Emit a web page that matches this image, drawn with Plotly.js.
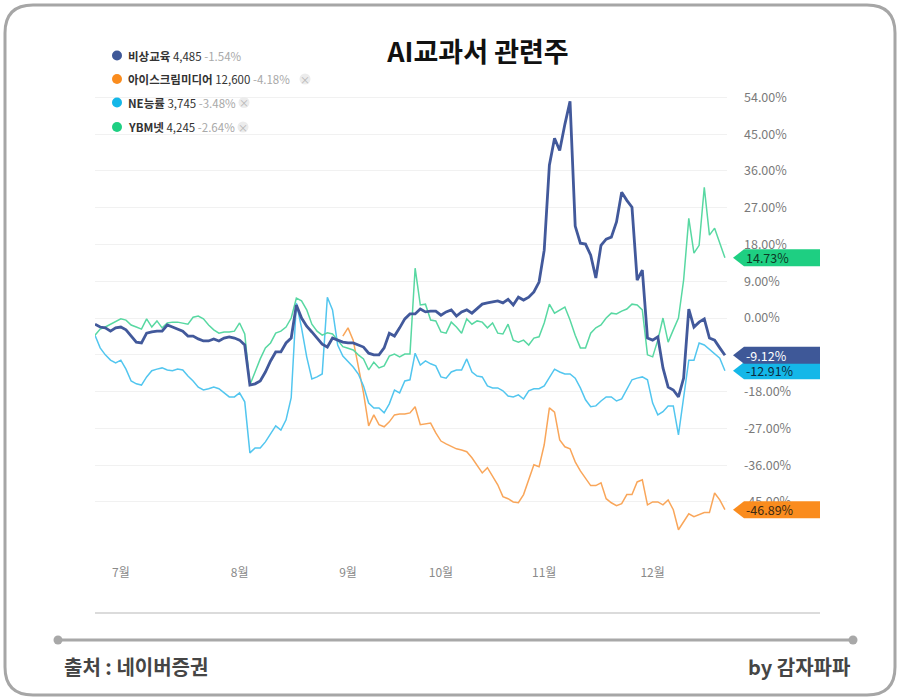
<!DOCTYPE html>
<html>
<head>
<meta charset="utf-8">
<script src="https://cdn.plot.ly/plotly-3.0.1.min.js"></script>
<style>
  html, body { margin: 0; padding: 0; background: #fff; }
  #chart { width: 900px; height: 700px; }
</style>
</head>
<body>
<div id="chart"></div>
<script>
// trading-day index of the first session of each month
const monthTickIdx = [5, 28, 49, 67, 87, 108];
const monthLabels = ['7월', '8월', '9월', '10월', '11월', '12월'];
const yTicks = [-45, -36, -27, -18, -9, 0, 9, 18, 27, 36, 45, 54];
const yTickLabels = ['-45.00%', '-36.00%', '-27.00%', '-18.00%', '-9.00%', '0.00%',
  '9.00%', '18.00%', '27.00%', '36.00%', '45.00%', '54.00%'];

const names = ['비상교육', '아이스크림미디어', 'NE능률', 'YBM넷'];
const prices = ['4,485', '12,600', '3,745', '4,245'];
const changes = ['-1.54%', '-4.18%', '-3.48%', '-2.64%'];

// cumulative return (%) per trading day
const visang = [
  -1.5, -2.2, -2.4, -3.2, -2.4, -2.2, -2.9, -4.4, -5.9, -6.1,
  -3.7, -3.4, -3.2, -3.2, -1.7, -2.2, -2.7, -3.2, -4.4, -4.4,
  -5.1, -5.6, -5.6, -5.1, -5.6, -4.9, -4.6, -4.9, -5.4, -6.6,
  -16.4, -16.1, -15.4, -13.2, -10.5, -8.3, -8.3, -6.1, -4.9, 3.2,
  0, -2.0, -3.4, -4.9, -6.4, -7.1, -4.9, -5.4, -5.9, -6.1,
  -6.1, -6.6, -7.1, -8.6, -9.0, -9.0, -7.3, -3.7, -4.4, -2.4,
  -0.2, 1.0, 1.0, 2.2, 1.5, 1.7, 1.7, 0.7, 1.5, 2.0,
  0.5, 1.5, 2.0, 1.2, 2.4, 3.4, 3.7, 3.9, 4.2, 3.7,
  4.6, 3.2, 5.1, 4.4, 5.1, 6.4, 8.8, 16.6, 37.4, 44.0,
  41.0, 47.4, 53.0, 22.5, 18.3, 18.1, 15.4, 9.8, 17.8, 19.3,
  19.8, 23.5, 30.8, 28.8, 27.1, 9.3, 11.7, -4.9, -5.4, -4.6,
  -12.2, -16.9, -17.6, -19.3, -14.7, 2.2, -2.2, -1.0, -0.2, -4.9,
  -5.4, -7.3, -9.12
];

const icecream = [
  null, null, null, null, null, null, null, null, null, null,
  null, null, null, null, null, null, null, null, null, null,
  null, null, null, null, null, null, null, null, null, null,
  null, null, null, null, null, null, null, null, null, null,
  null, null, null, null, null, null, null, null, -4.4, -2.4,
  -5.4, -12.0, -18.3, -26.4, -23.7, -26.1, -26.6, -25.4, -23.7, -23.5,
  -23.5, -23.2, -21.7, -26.1, -25.9, -25.7, -28.1, -30.1, -30.8, -31.5,
  -32.0, -32.3, -32.7, -34.2, -35.9, -37.9, -36.6, -38.8, -40.8, -43.7,
  -44.2, -45.0, -45.2, -43.2, -39.8, -35.9, -36.4, -31.0, -22.0, -23.0,
  -29.8, -31.5, -32.0, -35.2, -37.4, -39.1, -41.0, -41.0, -40.3, -44.2,
  -45.2, -45.9, -45.4, -43.2, -43.2, -40.1, -39.6, -45.7, -45.0, -45.0,
  -45.7, -44.5, -46.9, -51.8, -49.8, -47.9, -48.6, -48.1, -47.6, -47.6,
  -42.8, -44.5, -46.89
];

const neungyule = [
  -4.2, -7.3, -9.0, -10.3, -11.0, -10.3, -12.5, -15.4, -16.1, -16.4,
  -14.4, -12.9, -12.5, -12.2, -12.7, -12.9, -12.5, -12.7, -14.2, -15.4,
  -16.9, -17.6, -17.3, -16.9, -17.3, -18.3, -19.3, -19.3, -18.3, -20.5,
  -33.0, -31.8, -31.8, -30.3, -28.3, -26.4, -27.4, -24.9, -19.5, 3.7,
  -2.4, -9.5, -14.9, -14.4, -13.7, 5.1, 2.0, -6.6, -9.3, -10.7,
  -12.0, -13.7, -16.6, -20.8, -22.0, -22.0, -23.2, -21.0, -17.6, -18.3,
  -15.4, -15.1, -8.6, -11.5, -10.5, -11.2, -11.7, -14.4, -14.7, -13.2,
  -12.7, -12.7, -10.0, -13.2, -14.2, -14.4, -16.6, -17.1, -17.1, -17.8,
  -19.1, -19.3, -18.8, -19.8, -17.8, -17.3, -17.3, -16.6, -14.7, -12.5,
  -13.2, -13.7, -13.7, -14.7, -17.1, -20.0, -21.7, -21.5, -20.3, -19.3,
  -19.3, -20.3, -19.8, -17.6, -15.1, -14.7, -14.4, -15.1, -20.8, -23.7,
  -22.9, -21.5, -21.5, -28.6, -20.0, -10.3, -10.3, -6.1, -6.6, -7.6,
  -8.6, -9.8, -12.91
];

const ybm = [
  -4.2, -2.7, -2.2, -1.5, -1.0, -0.2, -0.5, -1.7, -2.2, -2.7,
  -0.2, -2.2, -0.7, -2.4, -1.2, -1.0, -1.0, -1.2, -1.5, 0.2,
  0.5, -0.2, -1.7, -2.9, -3.7, -3.4, -3.4, -3.2, -1.2, -3.9,
  -16.4, -13.2, -10.0, -7.3, -6.1, -3.7, -3.2, -2.2, 0, 4.9,
  4.2, 2.0, -1.5, -3.2, -4.2, -3.6, -3.9, -5.4, -7.0, -7.4,
  -7.8, -9.0, -10.0, -12.7, -10.8, -12.2, -11.7, -9.3, -8.8, -9.5,
  -8.8, -8.8, 12.2, 3.2, 3.4, -0.5, -0.7, -3.4, -3.7, -1.0,
  -2.2, -3.7, -0.2, -1.5, -0.7, -1.0, -2.4, -1.2, -3.7, -3.9,
  -1.5, -5.4, -5.9, -5.4, -6.6, -4.9, -4.6, -1.2, 3.4, 1.2,
  2.0, 2.7, -0.5, -4.2, -7.3, -7.3, -3.7, -2.4, -1.7, 0.0,
  1.2, 1.0, 1.7, 2.2, 3.4, 3.2, 2.0, -9.0, -9.5, -5.4,
  0, -5.9, -2.9, 0, 9.3, 24.4, 15.9, 17.8, 32.0, 20.3,
  22.0, 18.3, 14.73
];

const series = [visang, icecream, neungyule, ybm];
const lineColors = ['#42599b', '#f9a65a', '#52c6ef', '#58d8a2'];
const tagColors = ['#3e5898', '#fa8c1e', '#14b7e8', '#1ecf82'];
const tagText = ['#ffffff', '#3a2a12', '#0c2c40', '#0e3a26'];
const lineWidths = [2.8, 1.5, 1.5, 1.5];

const FONT = "'Noto Sans CJK KR', 'Noto Sans', sans-serif";
const M = { l: 95, r: 173, t: 81, b: 149 };
const W = 900, H = 700;
const PW = W - M.l - M.r, PH = H - M.t - M.b;
const px2x = px => (px - M.l) / PW;
const px2y = py => (H - M.b - py) / PH;
const yRange = [-57, 58];
const pxPerPct = PH / (yRange[1] - yRange[0]);

const xIdx = visang.map((_, i) => i);

// draw order: orange, light blue, green, navy on top
const order = [1, 2, 3, 0];
const traces = order.map(k => ({
  x: xIdx,
  y: series[k],
  type: 'scatter',
  mode: 'lines',
  name: names[k],
  line: { color: lineColors[k], width: lineWidths[k] },
  connectgaps: false,
  hoverinfo: 'skip',
}));

const shapes = [];
const annotations = [];

const roundRect = (x0, y0, x1, y1, r) => {
  const X = px2x, Y = px2y;
  return `M ${X(x0 + r)},${Y(y0)} L ${X(x1 - r)},${Y(y0)} Q ${X(x1)},${Y(y0)} ${X(x1)},${Y(y0 + r)} ` +
    `L ${X(x1)},${Y(y1 - r)} Q ${X(x1)},${Y(y1)} ${X(x1 - r)},${Y(y1)} ` +
    `L ${X(x0 + r)},${Y(y1)} Q ${X(x0)},${Y(y1)} ${X(x0)},${Y(y1 - r)} ` +
    `L ${X(x0)},${Y(y0 + r)} Q ${X(x0)},${Y(y0)} ${X(x0 + r)},${Y(y0)} Z`;
};

// outer frame
shapes.push({ type: 'path', xref: 'paper', yref: 'paper', path: roundRect(5, 5, 895, 695, 28),
  line: { color: '#a6a6a6', width: 3 }, layer: 'below' });

// bottom axis rule
shapes.push({ type: 'line', xref: 'paper', yref: 'paper', x0: px2x(95), x1: px2x(820), y0: px2y(613), y1: px2y(613),
  line: { color: '#cfcfcf', width: 1.5 } });

// footer rule with end dots
shapes.push({ type: 'line', xref: 'paper', yref: 'paper', x0: px2x(58), x1: px2x(853), y0: px2y(640), y1: px2y(640),
  line: { color: '#a8a8a8', width: 3 } });
[58, 853].forEach(cx => shapes.push({ type: 'circle', xref: 'paper', yref: 'paper',
  x0: px2x(cx - 4.5), x1: px2x(cx + 4.5), y0: px2y(640 + 4.5), y1: px2y(640 - 4.5),
  fillcolor: '#a8a8a8', line: { width: 0 } }));

// legend rows
const rowY = [55.5, 79, 102.5, 127];
const closeX = [null, 305, 244, 243];
names.forEach((n, k) => {
  shapes.push({ type: 'circle', xref: 'paper', yref: 'paper',
    x0: px2x(112), x1: px2x(122), y0: px2y(rowY[k] + 5), y1: px2y(rowY[k] - 5),
    fillcolor: tagColors[k], line: { width: 0 } });
  annotations.push({ xref: 'paper', yref: 'paper', x: px2x(126), y: px2y(rowY[k]),
    xanchor: 'left', yanchor: 'middle', showarrow: false,
    text: `<b>${n}</b> ${prices[k]} <span style="color:#a9a9a9">${changes[k]}</span>`,
    font: { family: FONT, size: 11.5, color: '#333' } });
  if (closeX[k]) {
    shapes.push({ type: 'circle', xref: 'paper', yref: 'paper',
      x0: px2x(closeX[k] - 5.5), x1: px2x(closeX[k] + 5.5), y0: px2y(rowY[k] + 5.5), y1: px2y(rowY[k] - 5.5),
      fillcolor: '#ececec', line: { width: 0 } });
    annotations.push({ xref: 'paper', yref: 'paper', x: px2x(closeX[k]), y: px2y(rowY[k]),
      xanchor: 'center', yanchor: 'middle', showarrow: false, text: '×',
      font: { family: FONT, size: 10, color: '#b5b5b5' } });
  }
});

// end-value tags on the right axis
const half = 8.5 / pxPerPct;
const tipX = px2x(733), bodyX = px2x(744), endX = px2x(820);
[1, 3, 2, 0].forEach(k => {
  const v = series[k][series[k].length - 1];
  shapes.push({ type: 'path', xref: 'paper', yref: 'y', layer: 'above',
    path: `M ${tipX},${v} L ${bodyX},${v + half} L ${endX},${v + half} L ${endX},${v - half} L ${bodyX},${v - half} Z`,
    fillcolor: tagColors[k], line: { width: 0 } });
  annotations.push({ xref: 'paper', yref: 'y', x: px2x(744), y: v, xanchor: 'left', yanchor: 'middle',
    showarrow: false, text: `${v.toFixed(2)}%`, font: { family: FONT, size: 12.5, color: tagText[k] } });
});

// footer text
annotations.push({ xref: 'paper', yref: 'paper', x: px2x(62), y: px2y(666), xanchor: 'left', yanchor: 'middle',
  showarrow: false, text: '<b>출처 : 네이버증권</b>', font: { family: FONT, size: 20, color: '#454545' } });
annotations.push({ xref: 'paper', yref: 'paper', x: px2x(852), y: px2y(666), xanchor: 'right', yanchor: 'middle',
  showarrow: false, text: '<b>by 감자파파</b>', font: { family: FONT, size: 20, color: '#454545' } });

const layout = {
  width: W,
  height: H,
  margin: M,
  paper_bgcolor: '#ffffff',
  plot_bgcolor: '#ffffff',
  showlegend: false,
  title: {
    text: '<b>AI교과서 관련주</b>',
    xref: 'container', yref: 'container',
    x: 478 / W, y: 1 - 53 / H, xanchor: 'center', yanchor: 'middle',
    font: { family: FONT, size: 27, color: '#111' },
  },
  xaxis: {
    range: [0, 122.4],
    showgrid: false,
    zeroline: false,
    showline: false,
    ticks: '',
    tickvals: monthTickIdx,
    ticktext: monthLabels,
    ticklabelstandoff: 13,
    tickfont: { family: FONT, size: 12, color: '#8a8a8a' },
    fixedrange: true,
  },
  yaxis: {
    side: 'right',
    range: yRange,
    tickvals: yTicks,
    ticktext: yTickLabels,
    showgrid: true,
    gridcolor: '#f1f1f1',
    gridwidth: 1,
    zeroline: false,
    showline: false,
    ticks: '',
    ticklabelstandoff: 16,
    tickfont: { family: FONT, size: 12.5, color: '#7a7a7a' },
    fixedrange: true,
  },
  shapes: shapes,
  annotations: annotations,
};

Plotly.newPlot('chart', traces, layout, { displayModeBar: false, staticPlot: true });
</script>
</body>
</html>
